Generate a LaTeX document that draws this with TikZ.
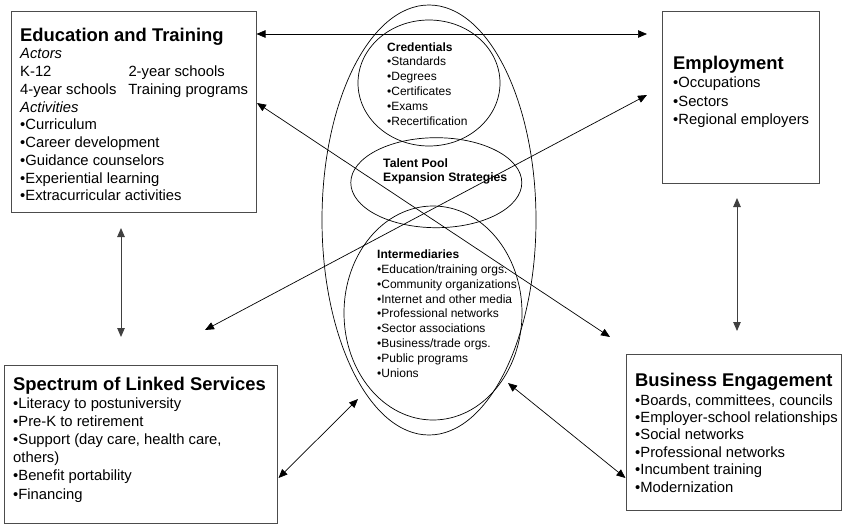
\documentclass[tikz,border=0pt]{standalone}
\usepackage{fontspec}
\setmainfont{Liberation Sans}
\usetikzlibrary{arrows.meta,shapes.geometric}

% heading and text sizes of the boxes
\newcommand{\panelhead}{\fontsize{18.4}{17.75}\selectfont\bfseries}
\newcommand{\ringhead}{\bfseries}

% text blocks are placed by the baseline of their last line
\tikzset{
  panel/.style={draw=black!70, line width=1pt, rectangle, inner sep=0pt},
  ring/.style={draw=black, line width=0.7pt, ellipse, inner sep=0pt},
  boxtext/.style={anchor=base west, align=left, inner sep=0pt,
                  font=\fontsize{14.8}{17.75}\selectfont},
  ringtext/.style={anchor=base west, align=left, inner sep=0pt,
                   font=\fontsize{12}{14.85}\selectfont},
  link/.style={line width=0.7pt,
               {Triangle[length=9pt,width=7.5pt]}-{Triangle[length=9pt,width=7.5pt]}},
  uplink/.style={link, draw=black!75, line width=1pt},
}

\begin{document}
\begin{tikzpicture}[x=1pt,y=-1pt]
\useasboundingbox (0,0) rectangle (843,527);

% ---- the four boxes ----
\node[panel, minimum width=245pt, minimum height=200pt] (edu) at (133.5,112) {};
\node[panel, minimum width=157pt, minimum height=171pt] (emp) at (740.5,97.5) {};
\node[panel, minimum width=273pt, minimum height=158pt] (spec) at (140.5,444) {};
\node[panel, minimum width=215pt, minimum height=156pt] (bus) at (733.5,432) {};

% ---- the nested ellipses in the middle ----
\node[ring, minimum width=214pt, minimum height=430pt] (pool) at (429,220) {};
\node[ring, minimum width=142pt, minimum height=126pt] (cred) at (429,83) {};
\node[ring, minimum width=171pt, minimum height=90pt] (talent) at (436.3,182.7) {};
\node[ring, minimum width=178pt, minimum height=214pt] (inter) at (433,313) {};

% ---- box texts ----
\node[boxtext] (edutext) at (20,200.75) {{\panelhead Education and Training}\\
  \textit{Actors}\\
  \makebox[108.3pt][l]{K-12}2-year schools\\
  \makebox[108.3pt][l]{4-year schools}Training programs\\
  \textit{Activities}\\
  •Curriculum\\
  •Career development\\
  •Guidance counselors\\
  •Experiential learning\\
  •Extracurricular activities};

\node[boxtext, font=\fontsize{14.8}{18}\selectfont] (emptext) at (673,124) {{\panelhead Employment}\\[0.5pt]
  •Occupations\\
  •Sectors\\
  •Regional employers};

\node[boxtext, font=\fontsize{14.8}{18.1}\selectfont] (spectext) at (13,499) {{\panelhead Spectrum of Linked Services}\\[0.4pt]
  •Literacy to postuniversity\\
  •Pre-K to retirement\\
  •Support (day care, health care,\\
  others)\\
  •Benefit portability\\
  •Financing};

\node[boxtext, font=\fontsize{14.8}{17.4}\selectfont] (bustext) at (635,492) {{\panelhead Business Engagement}\\[1.6pt]
  •Boards, committees, councils\\
  •Employer-school relationships\\
  •Social networks\\
  •Professional networks\\
  •Incumbent training\\
  •Modernization};

% ---- ellipse texts ----
\node[ringtext] (credtext) at (387,125.25) {{\ringhead Credentials}\\
  •Standards\\
  •Degrees\\
  •Certificates\\
  •Exams\\
  •Recertification};

\node[ringtext, font=\fontsize{12.2}{14.5}\selectfont\bfseries] (talenttext) at (383,181.5) {Talent Pool\\
  Expansion Strategies};

\node[ringtext] (intertext) at (377,377.3) {{\ringhead Intermediaries}\\
  •Education/training orgs.\\
  •Community organizations\\
  •Internet and other media\\
  •Professional networks\\
  •Sector associations\\
  •Business/trade orgs.\\
  •Public programs\\
  •Unions};

% ---- connector ends ----
\coordinate (eduR1) at (256.5,34);
\coordinate (empL1) at (647,34);
\coordinate (eduR2) at (257,103);
\coordinate (busNW) at (610,337);
\coordinate (empL2) at (647,95);
\coordinate (specNE) at (205,330);
\coordinate (eduS) at (121,228);
\coordinate (specN) at (121,337);
\coordinate (empS) at (737,198);
\coordinate (busN) at (737,331);
\coordinate (specR) at (278.5,478);
\coordinate (interSW) at (358,399);
\coordinate (busL) at (625.5,478);
\coordinate (interSE) at (508,383);

% ---- connectors ----
\draw[link] (eduR1) -- (empL1);
\draw[link] (eduR2) -- (busNW);
\draw[link] (empL2) -- (specNE);
\draw[uplink] (eduS) -- (specN);
\draw[uplink] (empS) -- (busN);
\draw[link] (specR) -- (interSW);
\draw[link] (busL) -- (interSE);

\end{tikzpicture}
\end{document}
